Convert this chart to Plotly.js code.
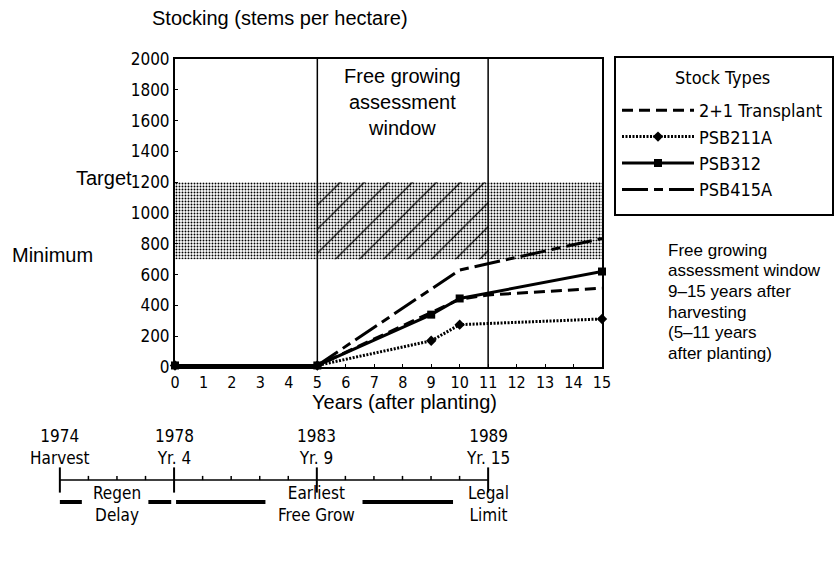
<!DOCTYPE html>
<html><head><meta charset="utf-8">
<script src="https://cdn.plot.ly/plotly-3.0.1.min.js"></script>
<style>html,body{margin:0;padding:0;background:#fff}#chart{width:837px;height:565px}</style>
</head><body><div id="chart"></div>
<script>
// ---- data ----
const seriesNames = ['2+1 Transplant', 'PSB211A', 'PSB312', 'PSB415A'];
const transplantX = [0, 5, 10, 11, 15];
const transplantY = [10, 10, 440, 468, 512];
const psb211aX = [0, 5, 9, 10, 15];
const psb211aY = [10, 10, 170, 275, 312];
const psb312X = [0, 5, 9, 10, 15];
const psb312Y = [10, 10, 340, 445, 620];
const psb415aX = [0, 5, 10, 15];
const psb415aY = [10, 10, 630, 835];
const xTicks = [0,1,2,3,4,5,6,7,8,9,10,11,12,13,14,15];
const yTicks = [0,200,400,600,800,1000,1200,1400,1600,1800,2000];
const bandMin = 700, bandMax = 1200;      // minimum / target stocking
const windowStart = 5, windowEnd = 11;    // free growing assessment window (yrs after planting)
const timelineYears = [1974, 1978, 1983, 1989];
const timelineTop = ['1974', '1978', '1983', '1989'];
const timelineSub = ['Harvest', 'Yr. 4', 'Yr. 9', 'Yr. 15'];
const minorYears = [1975,1976,1977,1979,1980,1981,1982,1984,1985,1986,1987,1988];
const phaseLabels = ['Regen<br>Delay', 'Earliest<br>Free Grow', 'Legal<br>Limit'];
const phaseCenters = [1976, 1983, 1989];
const phaseBarsX = [1974.0, 1974.77, null, 1977.1, 1977.9, null, 1978.07, 1981.2, null, 1984.6, 1987.77];
const noteLines = ['Free growing', 'assessment window', '9–15 years after', 'harvesting', '(5–11 years', 'after planting)'];

// ---- styling ----
const narrow = 'Liberation Sans Narrow, Arial Narrow, DejaVu Sans Condensed, sans-serif';
const sans = 'Liberation Sans, Arial, Helvetica, sans-serif';
const W = 837, H = 565;
const px = v => v / W, py = v => 1 - v / H;
const TL_Y = 480; // timeline line (pixel-like units on y2)

const traces = [
  {x:[0,15,15,0,0], y:[bandMin,bandMin,bandMax,bandMax,bandMin], mode:'lines', fill:'toself',
   line:{width:0}, fillcolor:'#ffffff',
   fillpattern:{shape:'.', size:3, solidity:0.32, fgcolor:'#000', bgcolor:'#fff'},
   showlegend:false, hoverinfo:'skip'},
  {x:[windowStart,windowEnd,windowEnd,windowStart,windowStart], y:[bandMin,bandMin,bandMax,bandMax,bandMin],
   mode:'lines', fill:'toself', line:{width:0}, fillcolor:'rgba(0,0,0,0)',
   fillpattern:{shape:'/', size:17, solidity:0.07, fgcolor:'#000', bgcolor:'rgba(0,0,0,0)'},
   showlegend:false, hoverinfo:'skip'},
  {x:transplantX, y:transplantY, name:seriesNames[0], mode:'lines',
   line:{color:'#000', width:3, dash:'11px,6px'}},
  {x:psb211aX, y:psb211aY, name:seriesNames[1], mode:'lines+markers',
   line:{color:'#000', width:3, dash:'2px,1.5px'}, marker:{symbol:'diamond', size:8, color:'#000'}, cliponaxis:false},
  {x:psb312X, y:psb312Y, name:seriesNames[2], mode:'lines+markers',
   line:{color:'#000', width:3}, marker:{symbol:'square', size:8, color:'#000'}, cliponaxis:false},
  {x:psb415aX, y:psb415aY, name:seriesNames[3], mode:'lines',
   line:{color:'#000', width:3, dash:'26px,6px,9px,6px'}},
  // timeline
  {x:[timelineYears[0], timelineYears[timelineYears.length-1]], y:[TL_Y, TL_Y], xaxis:'x2', yaxis:'y2',
   mode:'lines', line:{color:'#000', width:1.5}, showlegend:false, hoverinfo:'skip'},
  {x:timelineYears, y:timelineYears.map(()=>TL_Y), xaxis:'x2', yaxis:'y2', mode:'markers', cliponaxis:false,
   marker:{symbol:'line-ns', size:18, line:{width:2, color:'#000'}}, showlegend:false, hoverinfo:'skip'},
  {x:minorYears, y:minorYears.map(()=>TL_Y-2), xaxis:'x2', yaxis:'y2', mode:'markers', cliponaxis:false,
   marker:{symbol:'line-ns', size:3, line:{width:1.5, color:'#000'}}, showlegend:false, hoverinfo:'skip'},
  {x:phaseBarsX, y:phaseBarsX.map(v=>v===null?null:502), xaxis:'x2', yaxis:'y2', mode:'lines', cliponaxis:false,
   line:{color:'#000', width:4}, showlegend:false, hoverinfo:'skip', connectgaps:false}
];

const annotations = [
  {text:'Stocking (stems per hectare)', xref:'paper', yref:'paper', x:px(150), y:py(18), xanchor:'left', yanchor:'middle',
   showarrow:false, font:{family:sans, size:20, color:'#000'}},
  {text:'Years (after planting)', xref:'paper', yref:'paper', x:px(404), y:py(402), xanchor:'center', yanchor:'middle',
   showarrow:false, font:{family:sans, size:20, color:'#000'}},
  {text:'Free growing<br>assessment<br>window', xref:'x', yref:'paper', x:(windowStart+windowEnd)/2, y:py(63), xanchor:'center', yanchor:'top',
   showarrow:false, font:{family:sans, size:20, color:'#000'}},
  {text:'Target', xref:'paper', yref:'y', x:px(134), y:bandMax, xanchor:'right', yanchor:'middle', yshift:4,
   showarrow:false, font:{family:sans, size:20, color:'#000'}},
  {text:'Minimum', xref:'paper', yref:'y', x:px(10), y:bandMin, xanchor:'left', yanchor:'middle', yshift:4,
   showarrow:false, font:{family:sans, size:20, color:'#000'}},
  {text:'Stock Types', xref:'paper', yref:'paper', x:px(722), y:py(77), xanchor:'center', yanchor:'middle',
   showarrow:false, font:{family:narrow, size:18, color:'#000'}}
];
noteLines.forEach((t, i) => {
  annotations.push({text:t, xref:'paper', yref:'paper', x:px(666), y:py(250 + i*20.7), xanchor:'left', yanchor:'middle',
    showarrow:false, font:{family:sans, size:17, color:'#000'}});
});
timelineYears.forEach((yr, i) => {
  annotations.push({text:timelineTop[i] + '<br>' + timelineSub[i], xref:'x2', yref:'y2', x:yr, y:447,
    xanchor:'center', yanchor:'middle', showarrow:false, font:{family:narrow, size:17, color:'#000'}});
});
phaseLabels.forEach((lab, i) => {
  annotations.push({text:lab, xref:'x2', yref:'y2', x:phaseCenters[i], y:504,
    xanchor:'center', yanchor:'middle', showarrow:false, font:{family:narrow, size:17, color:'#000'}});
});

const shapes = [windowStart, windowEnd].map(xv => ({type:'line', xref:'x', yref:'y', x0:xv, x1:xv, y0:0, y1:2000,
  line:{color:'#000', width:1.5}}));
shapes.push({type:'rect', xref:'paper', yref:'paper', x0:px(615), x1:px(833), y0:py(215), y1:py(57),
  line:{color:'#000', width:2}, fillcolor:'rgba(0,0,0,0)', layer:'above'});

const layout = {
  width:W, height:H, margin:{l:0, r:0, t:0, b:0}, paper_bgcolor:'#fff', plot_bgcolor:'#fff',
  showlegend:true,
  xaxis:{domain:[px(175), px(602)], range:[0,15], tickvals:xTicks, ticktext:xTicks.map(String),
    showline:true, mirror:true, linecolor:'#000', linewidth:2, ticks:'inside', ticklen:3, tickcolor:'#000',
    showgrid:false, zeroline:false, tickfont:{family:narrow, size:16, color:'#000'}, anchor:'y'},
  yaxis:{domain:[py(367), py(59)], range:[0,2000], tickvals:yTicks, ticktext:yTicks.map(String),
    showline:true, mirror:true, linecolor:'#000', linewidth:2, ticks:'inside', ticklen:3, tickcolor:'#000',
    showgrid:false, zeroline:false, tickfont:{family:narrow, size:17, color:'#000'}, anchor:'x'},
  xaxis2:{domain:[px(57), px(491)], range:[1973.9, 1989.1], visible:false, anchor:'y2'},
  yaxis2:{domain:[py(540), py(420)], range:[540, 420], visible:false, anchor:'x2'},
  legend:{x:px(617), y:py(92), xanchor:'left', yanchor:'top', borderwidth:0,
    bgcolor:'rgba(0,0,0,0)', font:{family:narrow, size:18, color:'#000'}, itemwidth:72},
  annotations, shapes
};
Plotly.newPlot('chart', traces, layout, {displayModeBar:false, staticPlot:true});
</script>
</body></html>
